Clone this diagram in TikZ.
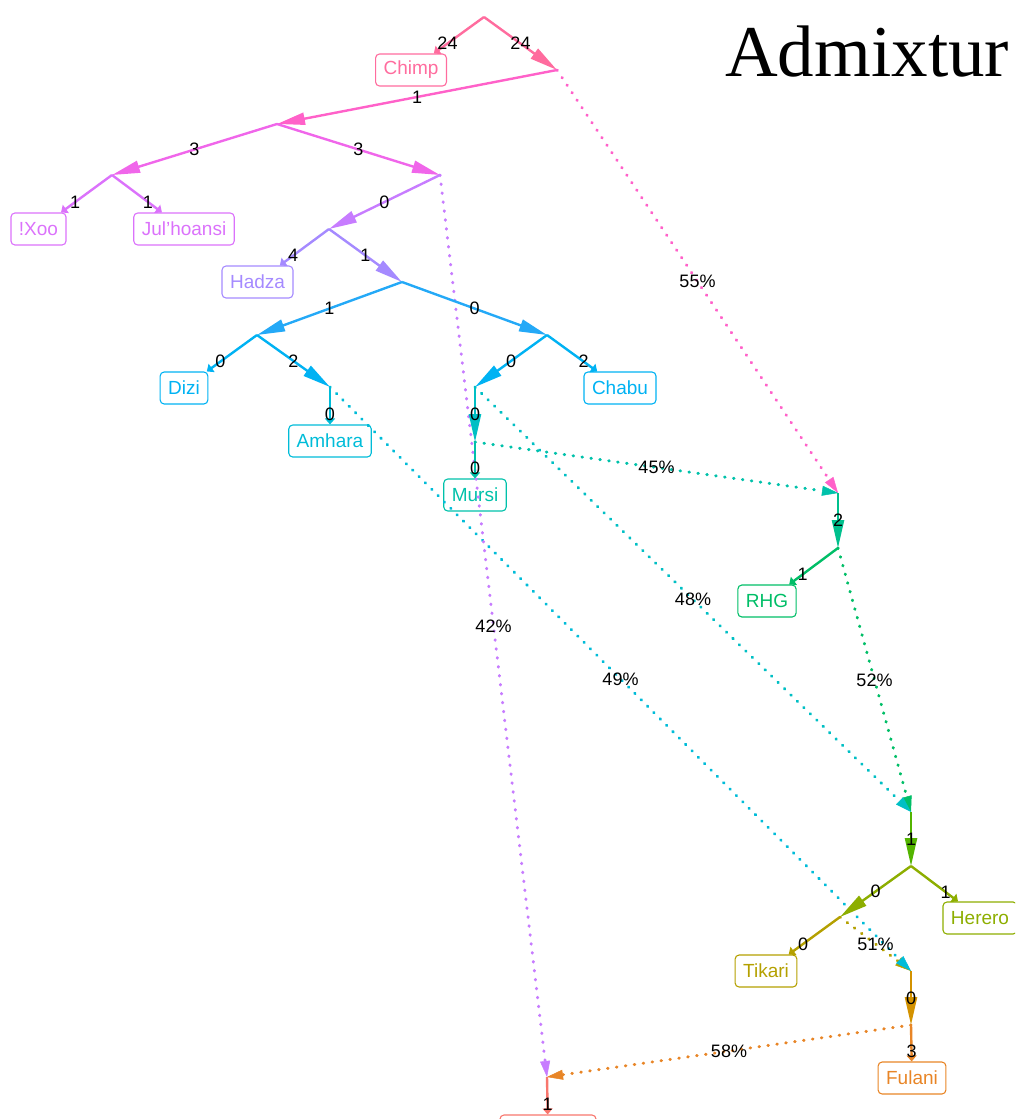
\documentclass[tikz,border=0pt]{standalone}
\usepackage{fontspec}
\setmainfont{Liberation Serif}
\setsansfont{Liberation Sans}
\usetikzlibrary{arrows.meta,calc}
\definecolor{cChimp}{HTML}{FF6C9E}
\definecolor{cA}{HTML}{FF61C9}
\definecolor{cB}{HTML}{F066EA}
\definecolor{cC}{HTML}{DB72FB}
\definecolor{cD}{HTML}{C77CFF}
\definecolor{cE}{HTML}{A58AFF}
\definecolor{cF}{HTML}{24A9F7}
\definecolor{cG}{HTML}{00B2F3}
\definecolor{cI}{HTML}{00BCD8}
\definecolor{cJ}{HTML}{00BFC4}
\definecolor{cK}{HTML}{00C1AA}
\definecolor{cL}{HTML}{00C08D}
\definecolor{cM}{HTML}{00BE67}
\definecolor{cN}{HTML}{53B400}
\definecolor{cO}{HTML}{8DAE00}
\definecolor{cP}{HTML}{B4A000}
\definecolor{cQ}{HTML}{D39200}
\definecolor{cS}{HTML}{E88526}
\definecolor{cT}{HTML}{F8766D}
\tikzset{
  leaf/.style={draw=#1, text=#1, rounded corners=4pt, line width=1.1pt,
    font=\sffamily\fontsize{19}{20}\selectfont, inner xsep=8pt, inner ysep=0pt,
    minimum height=32pt},
  wt/.style={font=\sffamily\fontsize{18}{18}\selectfont, inner sep=0pt, text=black},
  ed/.style={line width=2.4pt, draw=#1},
  bigarr/.style={ed=#1, -{Triangle[length=28pt,width=12pt]}},
  smarr/.style={ed=#1, -{Triangle[length=6pt,width=10pt]}},
  adm/.style={draw=#1, line width=3pt, dash pattern=on 0.6pt off 8.4pt, line cap=round,
    -{Triangle[length=16pt,width=10pt,line width=0.5pt]}}
}
\begin{document}
\begin{tikzpicture}[x=1pt,y=-1pt]
\useasboundingbox (0,0) rectangle (1015,1119);
\clip (0,0) rectangle (1015,1119);
% internal points
\coordinate (R) at (484,17);
\coordinate (A1) at (557,70);
\coordinate (B) at (277,124);
\coordinate (C) at (112,175);
\coordinate (D) at (440,175);
\coordinate (E) at (329,229);
\coordinate (F) at (402,282);
\coordinate (G) at (257,335);
\coordinate (H) at (547,335);
\coordinate (I) at (330,387);
\coordinate (J) at (475,387);
\coordinate (K) at (475,442);
\coordinate (L) at (838,493);
\coordinate (M) at (838,548);
\coordinate (N) at (911,812);
\coordinate (O) at (911,866);
\coordinate (P) at (840,917);
\coordinate (Q) at (911,971);
\coordinate (S) at (911,1025);
\coordinate (T) at (547,1077);
% leaves
\node[leaf=cChimp] (chimp) at (411,70) {Chimp};
\node[leaf=cC] (xoo) at (38.5,229) {!Xoo};
\node[leaf=cC] (jul) at (184,229) {Jul'hoansi};
\node[leaf=cE] (hadza) at (257.5,282) {Hadza};
\node[leaf=cG] (dizi) at (184,388) {Dizi};
\node[leaf=cI] (amhara) at (330,441) {Amhara};
\node[leaf=cG] (chabu) at (620,388) {Chabu};
\node[leaf=cK] (mursi) at (475,495) {Mursi};
\node[leaf=cM] (rhg) at (767,601) {RHG};
\node[leaf=cO] (herero) at (980,918) {Herero};
\node[leaf=cP] (tikari) at (766,971) {Tikari};
\node[leaf=cS] (fulani) at (912,1078) {Fulani};
\node[leaf=cT, minimum width=96pt] (bottom) at (548,1131) {};
% title
\node[anchor=base west, inner sep=0pt, font=\rmfamily\fontsize{73}{73}\selectfont] (title) at (725,76) {Admixtur};
% admixture edges
\draw[adm=cA] (A1) -- (L);
\draw[adm=cK] (K) -- (L);
\draw[adm=cM] (M) -- (N);
\draw[adm=cJ] (J) -- (N);
\draw[adm=cP] (P) -- (Q);
\draw[adm=cI] (I) -- (Q);
\draw[adm=cD] (D) -- (T);
\draw[adm=cS] (S) -- (T);
% tree edges
\draw[smarr=cChimp] (R) -- (chimp);
\draw[bigarr=cChimp] (R) -- (A1);
\draw[bigarr=cA] (A1) -- (B);
\draw[bigarr=cB] (B) -- (C);
\draw[bigarr=cB] (B) -- (D);
\draw[smarr=cC] (C) -- (xoo);
\draw[smarr=cC] (C) -- (jul);
\draw[bigarr=cD] (D) -- (E);
\draw[smarr=cE] (E) -- (hadza);
\draw[bigarr=cE] (E) -- (F);
\draw[bigarr=cF] (F) -- (G);
\draw[bigarr=cF] (F) -- (H);
\draw[smarr=cG] (G) -- (dizi);
\draw[bigarr=cG] (G) -- (I);
\draw[smarr=cI] (I) -- (amhara);
\draw[bigarr=cG] (H) -- (J);
\draw[smarr=cG] (H) -- (chabu);
\draw[bigarr=cJ] (J) -- (K);
\draw[smarr=cK] (K) -- (mursi);
\draw[bigarr=cL] (L) -- (M);
\draw[smarr=cM] (M) -- (rhg);
\draw[bigarr=cN] (N) -- (O);
\draw[smarr=cO] (O) -- (herero);
\draw[bigarr=cO] (O) -- (P);
\draw[smarr=cP] (P) -- (tikari);
\draw[bigarr=cQ] (Q) -- (S);
\draw[smarr=cS] (S) -- (fulani);
\draw[smarr=cT] (T) -- (bottom);
% weights
\node[wt] (w1) at ($(R)!0.5!(chimp)$) {24};
\node[wt] (w2) at ($(R)!0.5!(A1)$) {24};
\node[wt] (w3) at ($(A1)!0.5!(B)$) {1};
\node[wt] (w4) at ($(B)!0.5!(C)$) {3};
\node[wt] (w5) at ($(B)!0.5!(D)$) {3};
\node[wt] (w6) at ($(C)!0.5!(xoo)$) {1};
\node[wt] (w7) at ($(C)!0.5!(jul)$) {1};
\node[wt] (w8) at ($(D)!0.5!(E)$) {0};
\node[wt] (w9) at ($(E)!0.5!(hadza)$) {4};
\node[wt] (w10) at ($(E)!0.5!(F)$) {1};
\node[wt] (w11) at ($(F)!0.5!(G)$) {1};
\node[wt] (w12) at ($(F)!0.5!(H)$) {0};
\node[wt] (w13) at ($(G)!0.5!(dizi)$) {0};
\node[wt] (w14) at ($(G)!0.5!(I)$) {2};
\node[wt] (w15) at ($(I)!0.5!(amhara)$) {0};
\node[wt] (w16) at ($(H)!0.5!(J)$) {0};
\node[wt] (w17) at ($(H)!0.5!(chabu)$) {2};
\node[wt] (w18) at ($(J)!0.5!(K)$) {0};
\node[wt] (w19) at ($(K)!0.5!(mursi)$) {0};
\node[wt] (w20) at ($(L)!0.5!(M)$) {2};
\node[wt] (w21) at ($(M)!0.5!(rhg)$) {1};
\node[wt] (w22) at ($(N)!0.5!(O)$) {1};
\node[wt] (w23) at ($(O)!0.5!(herero)$) {1};
\node[wt] (w24) at ($(O)!0.5!(P)$) {0};
\node[wt] (w25) at ($(P)!0.5!(tikari)$) {0};
\node[wt] (w26) at ($(Q)!0.5!(S)$) {0};
\node[wt] (w27) at ($(S)!0.5!(fulani)$) {3};
\node[wt] (w28) at ($(T)!0.5!(bottom)$) {1};
% admixture percentages
\node[wt] (p1) at ($(A1)!0.5!(L)$) {55\%};
\node[wt] (p2) at ($(K)!0.5!(L)$) {45\%};
\node[wt] (p3) at ($(M)!0.5!(N)$) {52\%};
\node[wt] (p4) at ($(J)!0.5!(N)$) {48\%};
\node[wt] (p5) at ($(P)!0.5!(Q)$) {51\%};
\node[wt] (p6) at ($(I)!0.5!(Q)$) {49\%};
\node[wt] (p7) at ($(D)!0.5!(T)$) {42\%};
\node[wt] (p8) at ($(S)!0.5!(T)$) {58\%};
\end{tikzpicture}
\end{document}
